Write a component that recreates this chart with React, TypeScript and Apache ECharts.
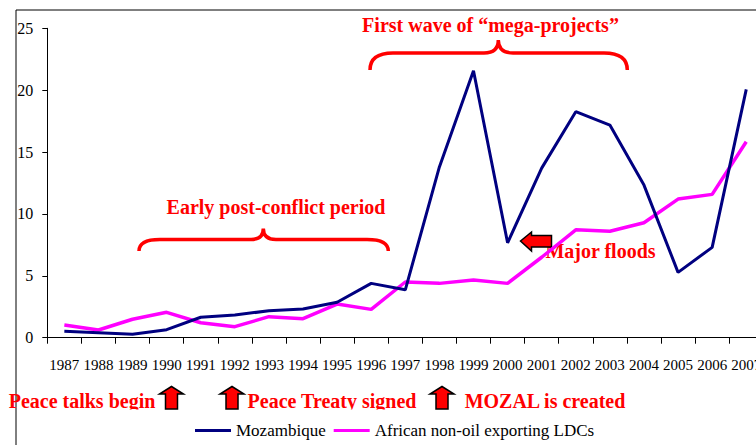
import React, { useEffect, useRef } from 'react';
import * as echarts from 'echarts';

const years = ['1987', '1988', '1989', '1990', '1991', '1992', '1993', '1994', '1995', '1996', '1997',
  '1998', '1999', '2000', '2001', '2002', '2003', '2004', '2005', '2006', '2007'];
const mozambique = [0.52, 0.4, 0.27, 0.65, 1.65, 1.83, 2.18, 2.32, 2.86, 4.39, 3.87,
  13.8, 21.57, 7.67, 13.7, 18.26, 17.18, 12.33, 5.28, 7.3, 20.06];
const africanLDCs = [1.03, 0.62, 1.49, 2.05, 1.21, 0.89, 1.7, 1.54, 2.72, 2.29, 4.5,
  4.39, 4.66, 4.39, 6.5, 8.72, 8.6, 9.29, 11.2, 11.58, 15.83];
const seriesNames = ['Mozambique', 'African non-oil exporting LDCs'];
const yMin = 0;
const yMax = 25;
const yStep = 5;

const periodLabels = ['Early post-conflict period', 'First wave of \u201cmega-projects\u201d'];
const eventLabels = ['Peace talks begin', 'Peace Treaty signed', 'MOZAL is created', 'Major floods'];

const BRACE_EARLY = 'M139,251 Q139,239.5 160,239.5 L251,239.5 Q263.3,239.5 263.3,228.5 Q263.3,239.5 276,239.5 L367,239.5 Q388.3,239.5 388.3,251';
const BRACE_MEGA = 'M370,70 Q370,53 393,53 L484,53 Q498.3,53 498.3,40 Q498.3,53 513,53 L604,53 Q627.3,53 627.3,70';

echarts.graphic.registerShape('braceEarly', echarts.graphic.extendPath(BRACE_EARLY, {}));
echarts.graphic.registerShape('braceMega', echarts.graphic.extendPath(BRACE_MEGA, {}));

const RED = '#FF0000';
const SERIF = 'Liberation Serif';

function upArrow(cx: number) {
  return {
    type: 'polygon',
    shape: {
      points: [
        [cx, 386.5], [cx + 12, 394], [cx + 6, 394], [cx + 6, 409],
        [cx - 6, 409], [cx - 6, 394], [cx - 12, 394],
      ],
    },
    style: { fill: RED, stroke: '#000', lineWidth: 1.5 },
    silent: true,
  };
}

function label(text: string, x: number, y: number) {
  return {
    type: 'text',
    x,
    y,
    style: {
      text,
      fill: RED,
      fontFamily: SERIF,
      fontWeight: 'bold',
      fontSize: 20,
      align: 'center',
      verticalAlign: 'middle',
    },
    silent: true,
  };
}

export default function App() {
  const ref = useRef<HTMLDivElement>(null);

  useEffect(() => {
    if (!ref.current) return;
    const chart = echarts.init(ref.current, null, { renderer: 'svg' });
    chart.setOption({
      animation: false,
      backgroundColor: '#ffffff',
      textStyle: { fontFamily: SERIF, fontSize: 15, color: '#000' },
      grid: { left: 47.3, top: 28.3, width: 716, height: 309.4, containLabel: false },
      legend: {
        data: seriesNames,
        left: 195,
        top: 422,
        padding: 0,
        icon: 'rect',
        itemWidth: 36,
        itemHeight: 3,
        itemGap: 8,
        textStyle: { fontFamily: SERIF, fontSize: 17, color: '#000' },
      },
      xAxis: {
        type: 'category',
        data: years,
        boundaryGap: true,
        axisLine: { lineStyle: { color: '#000', width: 1 } },
        axisTick: { show: true, inside: false, length: 6, lineStyle: { color: '#000' } },
        axisLabel: { interval: 0, margin: 20, color: '#000', fontFamily: SERIF, fontSize: 15 },
        splitLine: { show: false },
      },
      yAxis: {
        type: 'value',
        min: yMin,
        max: yMax,
        interval: yStep,
        axisLine: { show: true, lineStyle: { color: '#000', width: 1 } },
        axisTick: { show: true, inside: false, length: 5, lineStyle: { color: '#000' } },
        axisLabel: { margin: 14, color: '#000', fontFamily: SERIF, fontSize: 16 },
        splitLine: { show: false },
      },
      series: [
        {
          name: seriesNames[0],
          type: 'line',
          data: mozambique,
          symbol: 'none',
          lineStyle: { color: '#000080', width: 3 },
          itemStyle: { color: '#000080' },
          z: 3,
        },
        {
          name: seriesNames[1],
          type: 'line',
          data: africanLDCs,
          symbol: 'none',
          lineStyle: { color: '#FF00FF', width: 3.5 },
          itemStyle: { color: '#FF00FF' },
          z: 2,
        },
      ],
      graphic: {
        elements: [
          {
            type: 'rect',
            shape: { x: 16, y: 10, width: 900, height: 600 },
            style: { fill: 'none', stroke: '#000', lineWidth: 1 },
            silent: true,
          },
          { type: 'braceEarly', style: { fill: 'none', stroke: RED, lineWidth: 3.5 }, silent: true },
          { type: 'braceMega', style: { fill: 'none', stroke: RED, lineWidth: 3.5 }, silent: true },
          label(periodLabels[0], 276, 206.5),
          label(periodLabels[1], 490.5, 25),
          label(eventLabels[3], 600.5, 251),
          label(eventLabels[0], 82, 401),
          label(eventLabels[1], 332, 401),
          label(eventLabels[2], 545, 401),
          {
            type: 'rect',
            shape: { x: 17, y: 409.5, width: 800, height: 40 },
            style: { fill: '#ffffff' },
            silent: true,
          },
          upArrow(171.5),
          upArrow(232),
          upArrow(442),
          {
            type: 'polygon',
            shape: {
              points: [
                [520.5, 241], [531.5, 232], [531.5, 235.5], [551.5, 235.5],
                [551.5, 247], [531.5, 247], [531.5, 251],
              ],
            },
            style: { fill: RED, stroke: '#000', lineWidth: 1.5 },
            silent: true,
          },
        ],
      },
    });
    return () => chart.dispose();
  }, []);

  return (
    <div
      ref={ref}
      style={{ position: 'fixed', left: 0, top: 0, width: 800, height: 445, overflow: 'hidden' }}
    />
  );
}
